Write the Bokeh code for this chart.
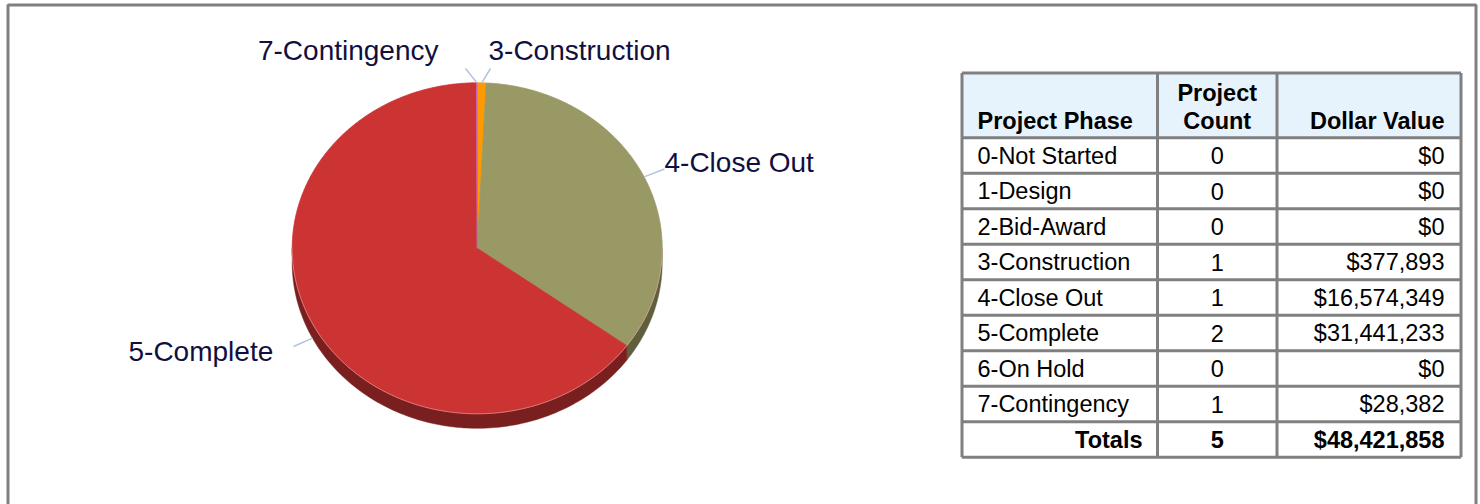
import numpy as np
from bokeh.plotting import figure
from bokeh.models import Range1d, ColumnDataSource
from bokeh.core.properties import value
from bokeh.embed import file_html
from bokeh.resources import INLINE

# ---------------- data ----------------
phases = ["0-Not Started", "1-Design", "2-Bid-Award", "3-Construction",
          "4-Close Out", "5-Complete", "6-On Hold", "7-Contingency"]
counts = [0, 0, 0, 1, 1, 2, 0, 1]
dollars = [0, 0, 0, 377893, 16574349, 31441233, 0, 28382]
total_count = 5
total_dollars = 48421858
slice_colors = ["#4F81BD", "#C0504D", "#9BBB59", "#FF9900",
                "#999966", "#CC3333", "#4BACC6", "#CC66CC"]
side_colors = ["#2F4D71", "#73302E", "#5D7035", "#995C00",
               "#5E603D", "#7A1F1F", "#2D6777", "#7A3D7A"]

# ---------------- figure ----------------
W, H = 1480, 504
p = figure(width=W, height=H, x_range=Range1d(0, W), y_range=Range1d(H, 0),
           x_axis_type=None, y_axis_type=None, toolbar_location=None,
           output_backend="svg", min_border=0)
p.grid.visible = False
p.outline_line_color = None
p.background_fill_color = "white"
p.border_fill_color = "white"

FONT = value("Liberation Sans")

# outer frame
p.quad(left=[7.5], right=[1475.5], top=[4.5], bottom=[520],
       fill_color=None, line_color="#808080", line_width=3)

# ---------------- 3D pie ----------------
cx, cy, rx, ry, depth = 476.7, 247.8, 185.0, 165.5, 14.5
vals = np.array(dollars, dtype=float)
frac = vals / vals.sum()
ends = np.cumsum(frac) * 360.0
starts = ends - frac * 360.0


def ex(t):
    return cx + rx * np.sin(np.radians(t))


def ey(t):
    return cy - ry * np.cos(np.radians(t))


side_xs, side_ys, side_c = [], [], []
top_xs, top_ys, top_c = [], [], []
for i in range(len(vals)):
    if vals[i] <= 0:
        continue
    s, e = max(starts[i], 90.0), min(ends[i], 270.0)
    if e > s:
        t = np.linspace(s, e, 120)
        side_xs.append(list(np.concatenate([ex(t), ex(t[::-1])])))
        side_ys.append(list(np.concatenate([ey(t), ey(t[::-1]) + depth])))
        side_c.append(side_colors[i])
    n = max(3, int((ends[i] - starts[i]) * 2))
    t = np.linspace(starts[i], ends[i], n)
    top_xs.append([cx] + list(ex(t)))
    top_ys.append([cy] + list(ey(t)))
    top_c.append(slice_colors[i])

p.patches(xs=side_xs, ys=side_ys, fill_color=side_c, line_color=side_c, line_width=0.5)
p.patches(xs=top_xs, ys=top_ys, fill_color=top_c, line_color=top_c, line_width=0.8)

# subtle highlight on the front rim
t = np.linspace(90, 270, 200)
p.line(x=ex(t), y=ey(t), line_color="#E8A0A0", line_width=1, line_alpha=0.6)

# ---------------- labels with leader lines ----------------
lbl_idx = [7, 3, 4, 5]
lbl_x = [438, 488, 664, 128]
lbl_y = [50, 50, 162, 351]
lbl_align = ["right", "left", "left", "left"]
lead_out_x = [465, 490, 664, 293]
lead_out_y = [68, 68, 168.5, 346]

lx0, ly0, lx1, ly1 = [], [], [], []
for k, i in enumerate(lbl_idx):
    mid = (starts[i] + ends[i]) / 2.0
    ix, iy = ex(mid), ey(mid)
    if 90 < mid < 270:
        iy += depth
    lx0.append(ix); ly0.append(iy)
    lx1.append(lead_out_x[k]); ly1.append(lead_out_y[k])
p.segment(x0=lx0, y0=ly0, x1=lx1, y1=ly1, line_color="#B4C4DC", line_width=1.5)

p.text(x=lbl_x, y=lbl_y, text=[phases[i] for i in lbl_idx],
       text_align=lbl_align, text_baseline="middle",
       text_font=FONT, text_font_size="28px", text_color="#101040")

# ---------------- table ----------------
tl, tr, tt = 961.5, 1460.5, 72.5
c1, c2 = 1157.0, 1276.5
hdr_b = 137.25
row_h = 35.5
n_rows = len(phases) + 1
tb = hdr_b + n_rows * row_h

p.quad(left=[tl], right=[tr], top=[tt], bottom=[hdr_b],
       fill_color="#E6F2FC", line_color=None)

# grid lines
gx0 = [tl, tl, c1, c2, tr]
gy0 = [tt, tt, tt, tt, tt]
gx1 = [tr, tl, c1, c2, tr]
gy1 = [tt, tb, tb, tb, tb]
for r in range(n_rows + 1):
    yy = hdr_b + r * row_h
    gx0.append(tl); gy0.append(yy); gx1.append(tr); gy1.append(yy)
p.segment(x0=gx0, y0=gy0, x1=gx1, y1=gy1, line_color="#808080", line_width=3)

TFS = "23.5px"
# header
hdr = ColumnDataSource(dict(
    x=[977, (c1 + c2) / 2, (c1 + c2) / 2, 1444],
    y=[120, 92, 120, 120],
    t=["Project Phase", "Project", "Count", "Dollar Value"],
    a=["left", "center", "center", "right"]))
p.text(x="x", y="y", text="t", text_align="a", source=hdr, text_baseline="middle",
       text_font=FONT, text_font_size=TFS, text_font_style="bold", text_color="black")

row_centers = [hdr_b + (r + 0.5) * row_h for r in range(len(phases))]
p.text(x=[977] * len(phases), y=row_centers, text=phases, text_align="left",
       text_baseline="middle", text_font=FONT, text_font_size=TFS, text_color="black")
p.text(x=[(c1 + c2) / 2] * len(phases), y=row_centers, text=[str(c) for c in counts],
       text_align="center", text_baseline="middle", text_font=FONT,
       text_font_size=TFS, text_color="black")
p.text(x=[1444] * len(phases), y=row_centers, text=["${:,}".format(d) for d in dollars],
       text_align="right", text_baseline="middle", text_font=FONT,
       text_font_size=TFS, text_color="black")

tot_y = hdr_b + (len(phases) + 0.5) * row_h
tots = ColumnDataSource(dict(
    x=[1142, (c1 + c2) / 2, 1444], y=[tot_y] * 3,
    t=["Totals", str(total_count), "${:,}".format(total_dollars)],
    a=["right", "center", "right"]))
p.text(x="x", y="y", text="t", text_align="a", source=tots, text_baseline="middle",
       text_font=FONT, text_font_size=TFS, text_font_style="bold", text_color="black")

open("out.html", "w").write(file_html(p, INLINE))
